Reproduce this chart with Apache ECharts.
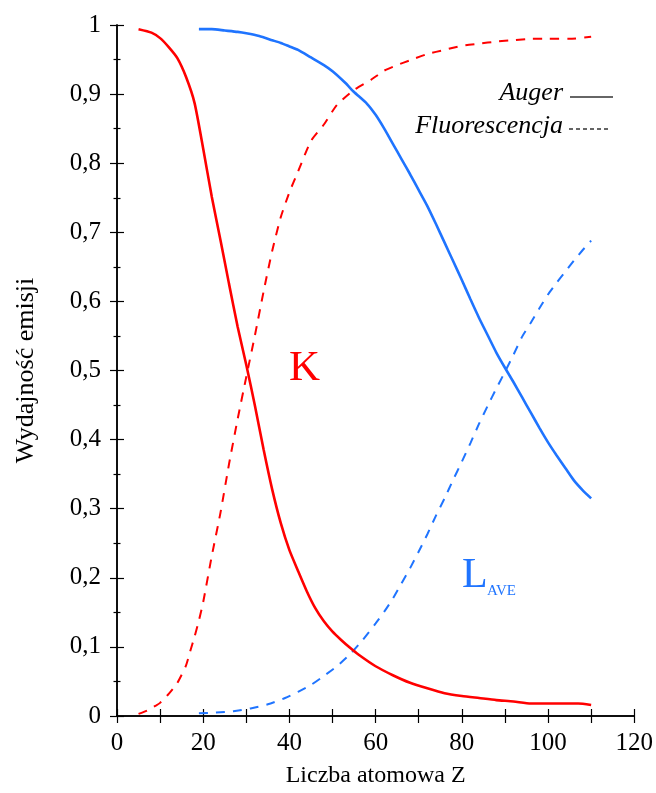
<!DOCTYPE html>
<html>
<head>
<meta charset="utf-8">
<script src="https://cdn.jsdelivr.net/npm/echarts@6/dist/echarts.min.js"></script>
<style>
  html, body { margin: 0; padding: 0; background: #fff; }
  #chart { width: 656px; height: 793px; }
</style>
</head>
<body>
<div id="chart"></div>
<script>
// Atomic number Z and emission yields (K shell and averaged L shell)
const kAugerZ = [5, 8, 10, 12, 14, 16, 18, 20, 22, 24, 26, 28, 30, 32, 34, 36, 38, 40, 42, 44, 46, 48, 50, 52, 54, 56, 60, 64, 68, 72, 76, 80, 84, 88, 92, 96, 100, 104, 107, 110];
const kAuger = [0.994, 0.989, 0.981, 0.968, 0.952, 0.925, 0.887, 0.821, 0.751, 0.689, 0.625, 0.563, 0.508, 0.449, 0.386, 0.328, 0.279, 0.240, 0.210, 0.181, 0.156, 0.137, 0.122, 0.110, 0.099, 0.089, 0.072, 0.059, 0.048, 0.040, 0.033, 0.029, 0.026, 0.023, 0.021, 0.018, 0.018, 0.018, 0.018, 0.016];

const kFluorZ = [5, 7, 9, 10, 12, 14, 16, 17, 18, 19, 20, 22, 24, 26, 28, 30, 32, 34, 36, 38, 40, 42, 45, 48, 51, 55, 59, 62, 65, 68, 72, 76, 80, 84, 88, 92, 96, 100, 105, 110];
const kFluor = [0.003, 0.008, 0.015, 0.019, 0.032, 0.048, 0.073, 0.094, 0.115, 0.138, 0.165, 0.232, 0.294, 0.365, 0.430, 0.491, 0.551, 0.614, 0.673, 0.722, 0.758, 0.788, 0.832, 0.856, 0.884, 0.906, 0.921, 0.934, 0.942, 0.949, 0.958, 0.964, 0.970, 0.973, 0.976, 0.978, 0.980, 0.980, 0.980, 0.983];

const lAugerZ = [19, 22, 25, 28, 30, 33, 36, 38, 40, 42, 45, 48, 50, 53, 55, 58, 60, 62, 64, 66, 68, 70, 72, 74, 76, 78, 80, 82, 84, 86, 88, 90, 92, 94, 96, 98, 100, 102, 104, 106, 108, 110];
const lAuger = [0.994, 0.994, 0.992, 0.990, 0.988, 0.984, 0.978, 0.974, 0.969, 0.964, 0.953, 0.942, 0.933, 0.916, 0.903, 0.886, 0.870, 0.850, 0.828, 0.806, 0.784, 0.761, 0.738, 0.712, 0.685, 0.658, 0.631, 0.603, 0.576, 0.551, 0.526, 0.504, 0.483, 0.461, 0.439, 0.417, 0.396, 0.377, 0.359, 0.341, 0.327, 0.315];

const lFluorZ = [19, 23, 27, 31, 35, 39, 42, 45, 48, 51, 54, 57, 60, 62, 64, 66, 68, 70, 72, 74, 76, 78, 80, 82, 84, 86, 88, 90, 92, 94, 96, 98, 100, 102, 104, 106, 108, 110];
const lFluor = [0.004, 0.005, 0.007, 0.011, 0.017, 0.026, 0.035, 0.045, 0.058, 0.072, 0.089, 0.110, 0.134, 0.151, 0.170, 0.192, 0.214, 0.238, 0.263, 0.290, 0.315, 0.342, 0.368, 0.395, 0.423, 0.449, 0.474, 0.498, 0.523, 0.549, 0.569, 0.590, 0.610, 0.627, 0.643, 0.659, 0.674, 0.688];

const xTicks = [0, 20, 40, 60, 80, 100, 120];
const yTicks = [0, 0.1, 0.2, 0.3, 0.4, 0.5, 0.6, 0.7, 0.8, 0.9, 1];

const FONT = "'Liberation Serif', 'DejaVu Serif', serif";
const RED = '#ff0000';
const BLUE = '#1f74ff';

const pairs = (xs, ys) => xs.map((x, i) => [x, ys[i]]);

const frameAxis = {
  axisLine: { show: true, lineStyle: { color: '#000', width: 1.5 } },
  splitLine: { show: false },
  axisTick: { show: true, inside: true, length: 7, lineStyle: { color: '#000', width: 1.2 } }
};

const chart = echarts.init(document.getElementById('chart'), null, { renderer: 'canvas' });

chart.setOption({
  backgroundColor: '#fff',
  animation: false,
  grid: { left: 117, right: 19, top: 25, bottom: 75, containLabel: false },
  xAxis: [
    Object.assign({}, frameAxis, {
      type: 'value', position: 'bottom',
      min: xTicks[0], max: xTicks[xTicks.length - 1], interval: 20,
      minorTick: { show: true, splitNumber: 2, length: 7, lineStyle: { color: '#000', width: 1.2 } },
      axisLabel: { margin: 15, fontFamily: FONT, fontSize: 25, color: '#000' },
      name: 'Liczba atomowa Z', nameLocation: 'middle', nameGap: 48,
      nameTextStyle: { fontFamily: FONT, fontSize: 24, color: '#000' }
    }),
    Object.assign({}, frameAxis, {
      type: 'value', position: 'top',
      min: xTicks[0], max: xTicks[xTicks.length - 1], interval: 20,
      minorTick: { show: true, splitNumber: 2, length: 7, lineStyle: { color: '#000', width: 1.2 } },
      axisLabel: { show: false }
    })
  ],
  yAxis: [
    Object.assign({}, frameAxis, {
      type: 'value', position: 'left',
      min: yTicks[0], max: yTicks[yTicks.length - 1], interval: 0.1,
      minorTick: { show: true, splitNumber: 2, length: 3.5, lineStyle: { color: '#000', width: 1.2 } },
      axisLabel: {
        margin: 16, fontFamily: FONT, fontSize: 25, color: '#000',
        formatter: v => String(Math.round(v * 10) / 10).replace('.', ',')
      },
      name: 'Wydajność emisji', nameLocation: 'middle', nameGap: 78, nameRotate: 90,
      nameTextStyle: { fontFamily: FONT, fontSize: 26, color: '#000' }
    }),
    Object.assign({}, frameAxis, {
      type: 'value', position: 'right',
      min: yTicks[0], max: yTicks[yTicks.length - 1], interval: 0.1,
      minorTick: { show: true, splitNumber: 2, length: 3.5, lineStyle: { color: '#000', width: 1.2 } },
      axisLabel: { show: false }
    })
  ],
  series: [
    {
      name: 'K Auger', type: 'line', data: pairs(kAugerZ, kAuger), smooth: 0.2,
      showSymbol: false, lineStyle: { color: RED, width: 2.6 }, z: 3
    },
    {
      name: 'K Fluorescencja', type: 'line', data: pairs(kFluorZ, kFluor), smooth: 0.2,
      showSymbol: false, lineStyle: { color: RED, width: 2, type: [9, 8] }, z: 3
    },
    {
      name: 'L Auger', type: 'line', data: pairs(lAugerZ, lAuger), smooth: 0.2,
      showSymbol: false, lineStyle: { color: BLUE, width: 2.6 }, z: 2
    },
    {
      name: 'L Fluorescencja', type: 'line', data: pairs(lFluorZ, lFluor), smooth: 0.2,
      showSymbol: false, lineStyle: { color: BLUE, width: 2, type: [9, 8] }, z: 2
    }
  ],
  graphic: [
    // line-style key
    { type: 'text', right: 656 - 563, top: 80,
      style: { text: 'Auger', fontFamily: FONT, fontStyle: 'italic', fontSize: 26, fill: '#000', textAlign: 'right' } },
    { type: 'line', shape: { x1: 570, y1: 97, x2: 613, y2: 97 },
      style: { stroke: '#333', lineWidth: 1.5 } },
    { type: 'text', right: 656 - 563, top: 113,
      style: { text: 'Fluorescencja', fontFamily: FONT, fontStyle: 'italic', fontSize: 26, fill: '#000', textAlign: 'right' } },
    { type: 'line', shape: { x1: 569, y1: 129, x2: 610, y2: 129 },
      style: { stroke: '#333', lineWidth: 1.5, lineDash: [4, 3] } },
    // shell labels
    { type: 'text', left: 289, top: 347,
      style: { text: 'K', fontFamily: FONT, fontSize: 43, fill: RED } },
    { type: 'text', left: 462, top: 555,
      style: { text: 'L', fontFamily: FONT, fontSize: 42, fill: BLUE } },
    { type: 'text', left: 487, top: 584,
      style: { text: 'AVE', fontFamily: FONT, fontSize: 15, fill: BLUE } }
  ]
});
</script>
</body>
</html>
